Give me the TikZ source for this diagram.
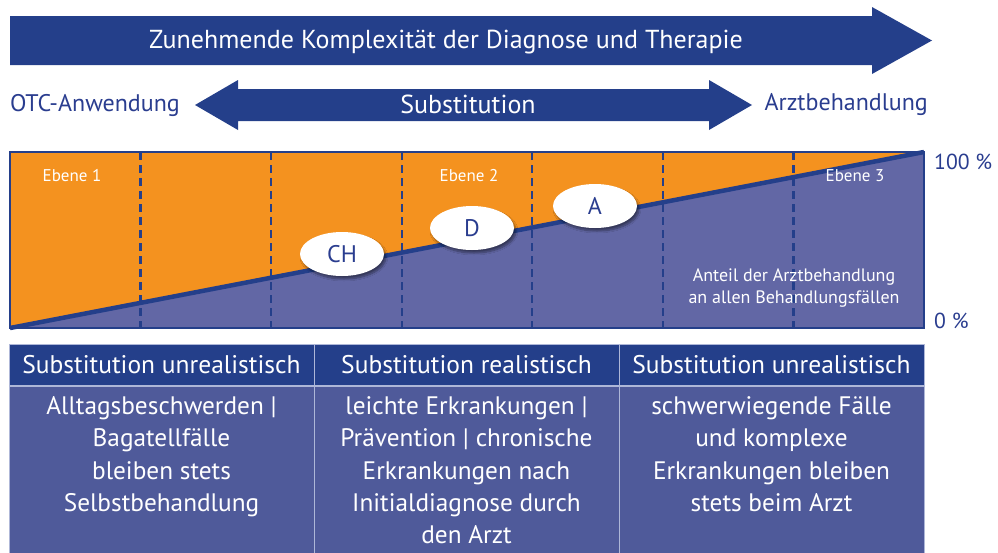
\documentclass[tikz,border=0pt]{standalone}
\usepackage{fontspec}
\setmainfont{PT Sans}
\usetikzlibrary{shadows.blur,shapes.geometric}
\definecolor{navy}{HTML}{243F8A}
\definecolor{orng}{HTML}{F4921F}
\definecolor{chartpurple}{HTML}{6267A5}
\definecolor{tbody}{HTML}{4F5A9A}
\definecolor{tborder}{HTML}{AEB7D8}
\definecolor{labelblue}{HTML}{2A3D8F}
\tikzset{
  hdr/.style={draw=tborder, line width=1pt, fill=navy, minimum width=305pt, minimum height=41pt, inner sep=0pt, text=white, font=\fontsize{25.5}{30}\selectfont},
  bodybox/.style={draw=tborder, line width=1pt, fill=tbody, minimum width=305pt, minimum height=170pt, inner sep=0pt},
  bodytxt/.style={text=white, align=center, font=\fontsize{25.3}{32.2}\selectfont, anchor=north, inner sep=0pt},
  oval/.style={ellipse, fill=white, minimum width=84pt, minimum height=44pt, inner sep=0pt, text=labelblue, font=\fontsize{24}{28}\selectfont,
    blur shadow={shadow xshift=2pt, shadow yshift=-3pt, shadow opacity=45, shadow blur steps=8}},
  ebene/.style={text=white, font=\fontsize{17}{20}\selectfont},
  sidelabel/.style={text=labelblue, font=\fontsize{24}{28}\selectfont},
  dashline/.style={draw=navy, line width=2.3pt, dash pattern=on 8pt off 5pt},
}
\begin{document}
\begin{tikzpicture}[x=1pt,y=-1pt]
\useasboundingbox (0,0) rectangle (998,552);
% top arrow
\fill[navy] (10,16) -- (872,16) -- (872,7) -- (932,40.5) -- (872,74) -- (872,65) -- (10,65) -- cycle;
\node[text=white, font=\fontsize{26}{30}\selectfont] (title) at (446,42) {Zunehmende Komplexität der Diagnose und Therapie};
% double arrow
\fill[navy] (195,105) -- (238,80) -- (238,89) -- (709,89) -- (709,80) -- (752,105) -- (709,130) -- (709,121) -- (238,121) -- (238,130) -- cycle;
\node[text=white, font=\fontsize{26}{30}\selectfont] (subst) at (468,104) {Substitution};
\node[sidelabel, anchor=west, inner sep=0pt] (otc) at (10,105) {OTC-Anwendung};
\node[sidelabel, anchor=east, inner sep=0pt] (arzt) at (928,105) {Arztbehandlung};
% chart
\coordinate (c00) at (10,328);
\coordinate (c11) at (924,152);
\fill[chartpurple] (10,152) rectangle (924,328);
\fill[orng] (10,152) -- (924,152) -- (10,328) -- cycle;
\foreach \i in {1,...,6} {
  \draw[dashline] ({10+130.57*\i},152) -- ({10+130.57*\i},328);
}
\draw[navy, line width=4.5pt] (c00) -- (c11);
\draw[navy, line width=2.5pt] (10,152) rectangle (924,328);
\node[ebene] (e1) at (72,176) {Ebene 1};
\node[ebene] (e2) at (469,176) {Ebene 2};
\node[ebene] (e3) at (855,176) {Ebene 3};
\node[text=white, align=center, font=\fontsize{18}{22}\selectfont] (anteil) at (794,288) {Anteil der Arztbehandlung\\an allen Behandlungsfällen};
\node[oval] (ch) at (342,254) {CH};
\node[oval] (d) at (472,228) {D};
\node[oval] (a) at (595,206) {A};
\node[text=labelblue, font=\fontsize{21.7}{26}\selectfont, anchor=west, inner sep=0pt] (p100) at (934,162) {100 \%};
\node[text=labelblue, font=\fontsize{21.7}{26}\selectfont, anchor=west, inner sep=0pt] (p0) at (934,321) {0 \%};
% table
\node[hdr] (h1) at (161.5,364.5) {Substitution unrealistisch};
\node[hdr] (h2) at (466.5,364.5) {Substitution realistisch};
\node[hdr] (h3) at (771.5,364.5) {Substitution unrealistisch};
\node[bodybox, anchor=north] (b1) at (h1.south) {};
\node[bodybox, anchor=north] (b2) at (h2.south) {};
\node[bodybox, anchor=north] (b3) at (h3.south) {};
\node[bodytxt] (t1) at ([yshift=-11pt]b1.north) {Alltagsbeschwerden |\\Bagatellfälle\\bleiben stets\\Selbstbehandlung};
\node[bodytxt] (t2) at ([yshift=-11pt]b2.north) {leichte Erkrankungen |\\Prävention | chronische\\Erkrankungen nach\\Initialdiagnose durch\\den Arzt};
\node[bodytxt] (t3) at ([yshift=-11pt]b3.north) {schwerwiegende Fälle\\und komplexe\\Erkrankungen bleiben\\stets beim Arzt};
\end{tikzpicture}
\end{document}
